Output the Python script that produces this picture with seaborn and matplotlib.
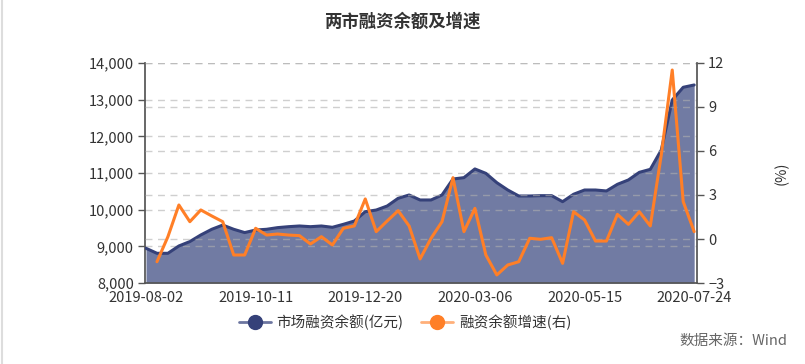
import pandas as pd
import seaborn as sns
import numpy as np
import matplotlib
matplotlib.use("Agg")
import matplotlib.pyplot as plt
from matplotlib.lines import Line2D
from matplotlib.ticker import FuncFormatter, FixedLocator

# weekly fridays, spring festival week (2020-01-31) has no data
dates = pd.date_range("2019-08-02", "2020-07-24", freq="7D")
dates = dates[dates != pd.Timestamp("2020-01-31")]

balance = [8947, 8810, 8810, 9010, 9130, 9310, 9465, 9580, 9465, 9375,
           9445, 9465, 9510, 9536, 9555, 9536, 9555, 9519, 9600, 9690,
           9945, 9990, 10100, 10310, 10400, 10264, 10264, 10400, 10836, 10873,
           11110, 10990, 10736, 10536, 10373, 10373, 10382, 10382, 10218, 10420,
           10536, 10536, 10510, 10691, 10810, 11018, 11100, 11627, 12990, 13337,
           13400]

growth = [np.nan, -1.55, 0.16, 2.32, 1.18, 1.98, 1.57, 1.18, -1.09, -1.09,
          0.73, 0.27, 0.34, 0.27, 0.23, -0.34, 0.16, -0.41, 0.73, 0.89,
          2.73, 0.50, 1.23, 1.93, 0.89, -1.36, 0.05, 1.18, 4.18, 0.50,
          2.09, -1.09, -2.45, -1.77, -1.55, 0.05, -0.02, 0.09, -1.66, 1.86,
          1.30, -0.14, -0.14, 1.68, 1.00, 1.86, 0.89, 5.73, 11.52, 2.55,
          0.50]

df = pd.DataFrame({"idx": np.arange(len(dates)), "date": dates.strftime("%Y-%m-%d"),
                   "balance": balance, "growth": growth})

sns.set_theme(style="white")
plt.rcParams["font.family"] = ["Noto Sans CJK SC", "DejaVu Sans"]

blue_line = "#354179"
blue_fill = "#717ba3"
orange = "#ff7f27"
txt = "#333333"
grid_c = "#b0b0b0"

fig = plt.figure(figsize=(8.05, 3.64), dpi=100)
ax = fig.add_axes([0.180, 0.2225, 0.686, 0.6045])
ax2 = ax.twinx()

ax.fill_between(df["idx"], 8000, df["balance"], color=blue_fill, lw=0, zorder=2)
sns.lineplot(data=df, x="idx", y="balance", ax=ax, color=blue_line, lw=2.2, zorder=3)
sns.lineplot(data=df, x="idx", y="growth", ax=ax2, color=orange, lw=2.2, zorder=4)

ax.set_xlim(-0.1, 50.27)
ax.set_ylim(8000, 14000)
ax2.set_ylim(-3, 12)
ax.set_yticks(np.arange(8000, 14001, 1000))
ax2.set_yticks(np.arange(-3, 13, 3))
ax.yaxis.set_major_formatter(FuncFormatter(lambda v, p: f"{int(v):,}"))

# category style ticks: labels on every 10th point, tick marks in between
ax.set_xticks(df["idx"][::10])
ax.set_xticklabels(df["date"][::10])
ax.xaxis.set_minor_locator(FixedLocator(np.arange(5, 50, 10)))
ax.tick_params(axis="x", which="major", length=0, pad=6, labelsize=10.5, colors=txt)
ax.tick_params(axis="x", which="minor", length=5, width=1, color="#555555", direction="out")
ax.tick_params(axis="y", length=5, width=1, color="#555555", labelsize=10.5, labelcolor=txt, direction="out", pad=3)
ax2.tick_params(axis="y", length=5, width=1, color="#555555", labelsize=10.5, labelcolor=txt, direction="out", pad=3)
ax.set_xlabel("")
ax.set_ylabel("")
ax2.set_ylabel("(%)", color=txt, fontsize=10.5, labelpad=36)

for a in (ax, ax2):
    for s in a.spines.values():
        s.set_visible(False)
ax.spines["left"].set_visible(True)
ax.spines["left"].set_color("#555555")
ax.spines["bottom"].set_visible(True)
ax.spines["bottom"].set_color("#555555")
ax2.spines["right"].set_visible(True)
ax2.spines["right"].set_color("#555555")

# dashed grid of both axes, drawn over the area but under the lines
for v in range(9000, 14001, 1000):
    ax.axhline(v, color=grid_c, alpha=0.6, lw=1, ls=(0, (5, 4)), zorder=2.5)
for v in range(0, 13, 3):
    ax2.axhline(v, color=grid_c, alpha=0.6, lw=1, ls=(0, (5, 4)), zorder=1)
ax.set_zorder(ax2.get_zorder() - 1)
ax2.patch.set_visible(False)

fig.text(0.5, 0.94, "两市融资余额及增速", ha="center", va="center",
         fontsize=12.5, fontweight="bold", color=txt)

handles = [Line2D([0], [0], color="#6c76a0", lw=2, marker="o", markersize=10,
                  markerfacecolor=blue_line, markeredgecolor=blue_line),
           Line2D([0], [0], color="#ffb07a", lw=2, marker="o", markersize=10,
                  markerfacecolor=orange, markeredgecolor=orange)]
fig.legend(handles, ["市场融资余额(亿元)", "融资余额增速(右)"], loc="center",
           bbox_to_anchor=(0.503, 0.115), ncol=2, frameon=False, fontsize=10.5,
           handlelength=2.2, handletextpad=0.4, columnspacing=1.2, labelcolor=txt)

fig.text(0.978, 0.063, "数据来源：Wind", ha="right", va="center", fontsize=10.5, color="#666666")
fig.add_artist(Line2D([0.002, 0.002], [0, 1], color="#dddddd", lw=1.5, transform=fig.transFigure))

fig.savefig("out.png", dpi=100)
